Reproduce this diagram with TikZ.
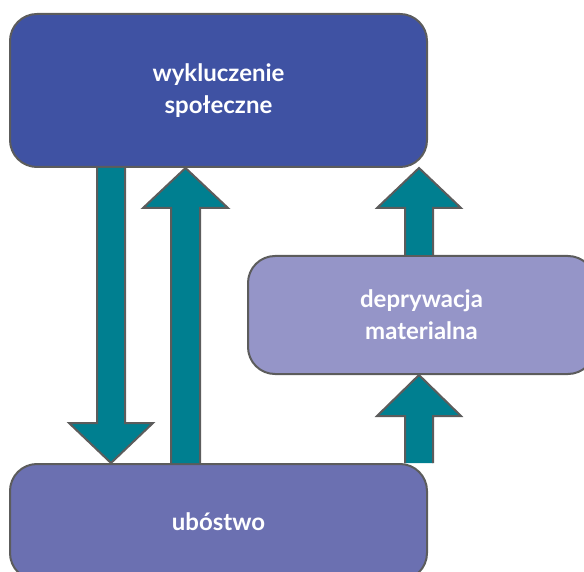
\documentclass[tikz,border=0pt]{standalone}
\usepackage{fontspec}
\setmainfont{Lato}
\usetikzlibrary{calc}
\definecolor{topblue}{HTML}{3F52A3}
\definecolor{midlav}{HTML}{9595C8}
\definecolor{botblue}{HTML}{6B70B1}
\definecolor{teal}{HTML}{007F90}
\definecolor{edgegrey}{HTML}{5C5C5C}
\tikzset{
  box/.style={draw=edgegrey, line width=2pt, rounded corners=27pt, inner sep=0pt,
    align=center, text=white, font=\fontsize{24}{32}\selectfont\bfseries},
  bigarrow/.style={draw=edgegrey, fill=teal, line width=2pt, line join=miter},
}
\begin{document}
\begin{tikzpicture}[x=1pt,y=-1pt]
\useasboundingbox (0,0) rectangle (584,572);
\clip (0,0) rectangle (584,572);
% boxes
\node[box, fill=topblue, minimum width=417pt, minimum height=153pt] (top) at (218.5,90.5) {wykluczenie\\społeczne};
\node[box, fill=midlav, minimum width=347pt, minimum height=118pt] (mid) at (421.5,315) {deprywacja\\materialna};
\node[box, fill=botblue, minimum width=417pt, minimum height=116pt] (bot) at (218.5,522) {ubóstwo};
% arrow anchor coordinates
\coordinate (d1s) at (top.south -| 111,0);
\coordinate (d1e) at (bot.north -| 111,0);
\coordinate (u1s) at (bot.north -| 185.5,0);
\coordinate (u1e) at (top.south -| 185.5,0);
\coordinate (u2s) at (mid.north -| 419,0);
\coordinate (u2e) at (top.south -| 419,0);
\coordinate (u3s) at (bot.north -| 419,0);
\coordinate (u3e) at (mid.south -| 419,0);
% down arrow
\draw[bigarrow] ($(d1s)+(-14,0)$) -- ($(d1e)+(-14,-40)$) -- ($(d1e)+(-42,-40)$) -- (d1e)
  -- ($(d1e)+(42,-40)$) -- ($(d1e)+(14,-40)$) -- ($(d1s)+(14,0)$);
% up arrows
\draw[bigarrow] ($(u1s)+(-14.5,0)$) -- ($(u1e)+(-14.5,40)$) -- ($(u1e)+(-42.5,40)$) -- (u1e)
  -- ($(u1e)+(42.5,40)$) -- ($(u1e)+(14.5,40)$) -- ($(u1s)+(14.5,0)$);
\draw[bigarrow] ($(u2s)+(-14,0)$) -- ($(u2e)+(-14,40)$) -- ($(u2e)+(-42,40)$) -- (u2e)
  -- ($(u2e)+(42,40)$) -- ($(u2e)+(14,40)$) -- ($(u2s)+(14,0)$);
\draw[bigarrow] ($(u3s)+(-14,0)$) -- ($(u3e)+(-14,41)$) -- ($(u3e)+(-42,41)$) -- (u3e)
  -- ($(u3e)+(42,41)$) -- ($(u3e)+(14,41)$) -- ($(u3s)+(14,0)$);
\end{tikzpicture}
\end{document}
